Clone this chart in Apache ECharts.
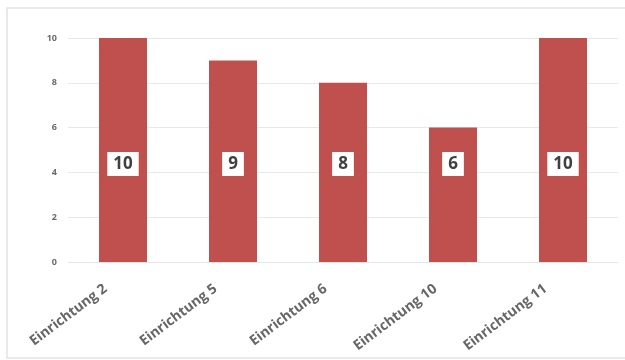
<!DOCTYPE html>
<html>
<head>
<meta charset="utf-8">
<script src="https://cdn.jsdelivr.net/npm/echarts@6/dist/echarts.min.js"></script>
<style>
  html, body { margin: 0; padding: 0; background: #ffffff; }
  #chart { width: 625px; height: 360px; }
</style>
</head>
<body>
<div id="chart"></div>
<script>
// Einrichtungen and their counts
const categories = ['Einrichtung 2', 'Einrichtung 5', 'Einrichtung 6', 'Einrichtung 10', 'Einrichtung 11'];
const values = [10, 9, 8, 6, 10];
const yTicks = [0, 2, 4, 6, 8, 10];

const chart = echarts.init(document.getElementById('chart'));

chart.setOption({
  animation: false,
  backgroundColor: '#ffffff',
  graphic: [{
    type: 'rect',
    shape: { x: 7, y: 8, width: 640, height: 350 },
    style: { fill: 'none', stroke: '#e3e3e3', lineWidth: 1.5 },
    z: 0
  }],
  grid: { left: 68, right: 7, top: 38, bottom: 98 },
  xAxis: {
    type: 'category',
    data: categories,
    axisLine: { show: true, lineStyle: { color: '#e6e6e6' } },
    axisTick: { show: false },
    axisLabel: {
      rotate: 37,
      interval: 0,
      margin: 12,
      padding: [0, 22, 0, 0],
      fontFamily: 'Open Sans',
      fontWeight: 'bold',
      fontSize: 14,
      color: '#666666'
    }
  },
  yAxis: {
    type: 'value',
    min: yTicks[0],
    max: yTicks[yTicks.length - 1],
    interval: 2,
    axisLine: { show: false },
    axisTick: { show: false },
    splitLine: { lineStyle: { color: '#e8e8e8' } },
    axisLabel: {
      margin: 11,
      fontFamily: 'Open Sans',
      fontWeight: 'bold',
      fontSize: 9,
      color: '#6a6a6a'
    }
  },
  series: [{
    type: 'bar',
    data: values,
    barWidth: 48,
    itemStyle: { color: '#c0504d' },
    label: {
      show: true,
      position: 'insideBottom',
      distance: 86,
      backgroundColor: '#ffffff',
      padding: [4, 6, 3, 6],
      fontFamily: 'Open Sans',
      fontWeight: 'bold',
      fontSize: 17,
      color: '#404040'
    }
  }]
});
</script>
</body>
</html>
